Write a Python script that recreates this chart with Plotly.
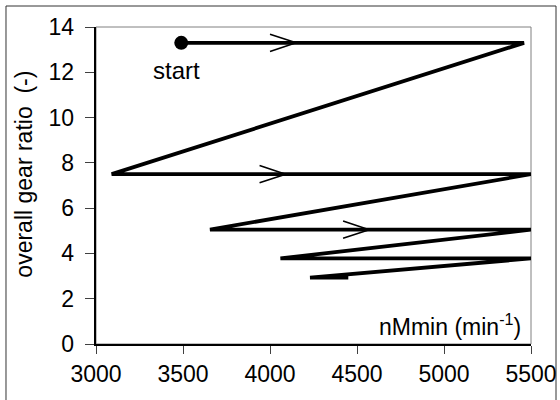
import plotly.graph_objects as go

# Engine speed (min^-1) and overall gear ratio along the shift path
speed = [3490, 5460, 3090, 5500, 3655, 5500, 4060, 5500, 4230, 4450]
ratio = [13.3, 13.3, 7.5, 7.5, 5.05, 5.05, 3.78, 3.78, 2.93, 2.93]

# Direction arrows: tip positions on the horizontal runs
arrow_speed = [4150, 4090, 4570]
arrow_ratio = [13.3, 7.5, 5.05]

x_ticks = [3000, 3500, 4000, 4500, 5000, 5500]
y_ticks = [0, 2, 4, 6, 8, 10, 12, 14]

FONT = "Liberation Sans, Arial, sans-serif"
ARROW_LEN = 150      # in speed units
ARROW_HALF = 0.38    # in ratio units

fig = go.Figure()

fig.add_trace(go.Scatter(
    x=speed, y=ratio, mode="lines",
    line=dict(color="black", width=3.8),
    hoverinfo="skip", showlegend=False,
))

# open ">" arrowheads
ax, ay = [], []
for xs, ys in zip(arrow_speed, arrow_ratio):
    ax += [xs - ARROW_LEN, xs, xs - ARROW_LEN, None]
    ay += [ys + ARROW_HALF, ys, ys - ARROW_HALF, None]
fig.add_trace(go.Scatter(
    x=ax, y=ay, mode="lines",
    line=dict(color="black", width=1.6),
    hoverinfo="skip", showlegend=False,
))

# start point
fig.add_trace(go.Scatter(
    x=[speed[0]], y=[ratio[0]], mode="markers",
    marker=dict(color="black", size=14),
    hoverinfo="skip", showlegend=False,
))

fig.add_annotation(x=3465, y=12.1, xref="x", yref="y", text="start",
                   showarrow=False, font=dict(size=24, color="black", family=FONT))
fig.add_annotation(x=0.981, y=0.06, xref="paper", yref="paper",
                   text="nMmin (min<sup>-1</sup>)", xanchor="right", yanchor="middle",
                   showarrow=False, font=dict(size=23, color="black", family=FONT))
fig.add_annotation(x=-0.165, y=0.535, xref="paper", yref="paper",
                   text="overall gear ratio&nbsp; (-)", textangle=-90,
                   xanchor="center", yanchor="middle",
                   showarrow=False, font=dict(size=23, color="black", family=FONT))

# plot frame (top/right) and outer chart border
fig.add_shape(type="rect", xref="paper", yref="paper", x0=0, y0=0, x1=1, y1=1,
              line=dict(color="#808080", width=1), layer="below")
fig.add_shape(type="rect", xref="paper", yref="paper",
              x0=-0.2069, y0=-0.25, x1=1.0575, y1=1.0662,
              line=dict(color="#333333", width=1), layer="below")

fig.update_xaxes(
    range=[3000, 5500], tickvals=x_ticks, ticktext=[str(v) for v in x_ticks],
    showgrid=False, zeroline=False, automargin=False,
    showline=True, linecolor="black", linewidth=2,
    ticks="outside", ticklen=8, tickcolor="#404040", tickwidth=1,
    tickfont=dict(size=23, color="black", family=FONT),
)
fig.update_yaxes(
    range=[0, 14], tickvals=y_ticks, ticktext=[f"{v}&nbsp;" for v in y_ticks],
    showgrid=False, zeroline=False, automargin=False,
    showline=True, linecolor="black", linewidth=2,
    ticks="outside", ticklen=9, tickcolor="#404040", tickwidth=1,
    tickfont=dict(size=23, color="black", family=FONT),
)

fig.update_layout(
    width=560, height=400,
    margin=dict(l=96, r=29, t=27, b=56),
    paper_bgcolor="white", plot_bgcolor="white",
)

fig.write_html("out.html")
